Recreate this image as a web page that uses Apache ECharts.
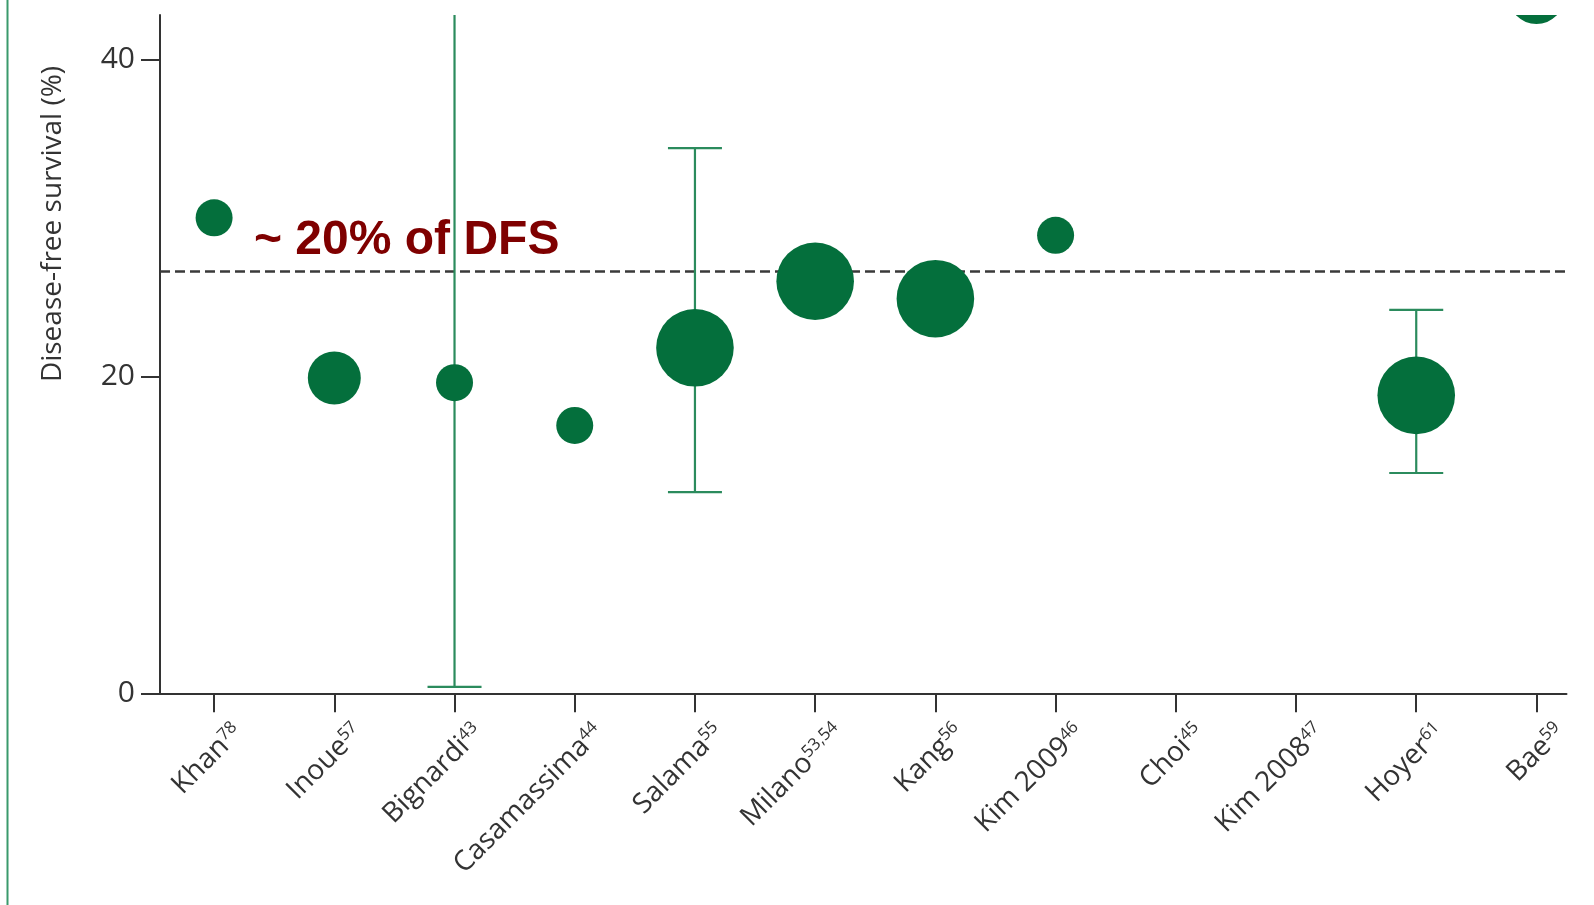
<!DOCTYPE html>
<html><head><meta charset="utf-8">
<script src="https://cdn.jsdelivr.net/npm/echarts@6/dist/echarts.min.js"></script>
<style>html,body{margin:0;padding:0;background:#fff}#chart{width:1594px;height:905px}</style>
</head><body><div id="chart"></div>
<script>
// ---- data ----
const studies = ['Khan','Inoue','Bignardi','Casamassima','Salama','Milano','Kang','Kim 2009','Choi','Kim 2008','Hoyer','Bae'];
const refs = ['78','57','43','44','55','53,54','56','46','45','47','61','59'];
const dfs = [30.0, 19.9, 19.6, 16.9, 21.8, 26.0, 24.9, 28.9, null, null, 18.8, 44.0];
const bubbleWeight = [1, 2.05, 1, 1, 4.4, 4.4, 4.4, 1, null, null, 4.4, 2.3];
const ciLow = [null, null, 0.4, null, 12.7, null, null, null, null, null, 13.9, null];
const ciHigh = [null, null, 60, null, 34.4, null, null, null, null, null, 24.2, null];
const yTicks = [0, 20, 40];
const refLine = 26.6;
const annotation = '~ 20% of DFS';
const yTitle = 'Disease-free survival (%)';

// ---- build ----
const xIdx = studies.map((s, i) => i);
const bubbleData = [];
dfs.forEach((v, i) => { if (v != null) bubbleData.push([i, v, bubbleWeight[i]]); });
const ciData = [];
ciLow.forEach((v, i) => { if (v != null) ciData.push([i, v, ciHigh[i]]); });

const GREEN = '#046f3c';
const BAR = '#2b8b5d';
const AX = '#333';
const FONT = 'Open Sans';

const chart = echarts.init(document.getElementById('chart'), null, {renderer: 'canvas'});
chart.setOption({
  animation: false,
  backgroundColor: '#fff',
  grid: {left: 160, right: 27.5, top: 15, bottom: 211.7, containLabel: false},
  xAxis: {
    type: 'value', min: -0.45, max: 11.25,
    splitLine: {show: false},
    axisLine: {onZero: false, lineStyle: {color: AX, width: 2}},
    axisTick: {show: true, customValues: xIdx, length: 19, lineStyle: {color: AX, width: 2}},
    axisLabel: {
      customValues: xIdx, rotate: 45, margin: 11,
      verticalAlign: 'top', padding: [20, 0, 0, 0],
      formatter: v => '{n|' + studies[Math.round(v)] + '}{s|' + refs[Math.round(v)] + '}',
      rich: {
        n: {fontSize: 28, fontFamily: FONT, color: AX},
        s: {fontSize: 17, fontFamily: FONT, color: AX, verticalAlign: 'top', padding: [0, 0, 10, 0]}
      }
    }
  },
  yAxis: {
    type: 'value', min: 0, max: 42.8,
    splitLine: {show: false},
    axisLine: {show: true, onZero: false, lineStyle: {color: AX, width: 2}},
    axisTick: {show: true, customValues: yTicks, length: 19, lineStyle: {color: AX, width: 2}},
    axisLabel: {customValues: yTicks, fontSize: 30, margin: 25, color: AX, fontFamily: FONT}
  },
  graphic: [
    {type: 'line', shape: {x1: 7.5, y1: 0, x2: 7.5, y2: 905}, style: {stroke: '#3a9a6c', lineWidth: 2}},
    {type: 'text', x: 53, y: 224, rotation: Math.PI / 2,
     style: {text: yTitle, fontSize: 28, fontFamily: FONT, fill: AX, align: 'center', verticalAlign: 'middle'}},
    {type: 'text', x: 254, y: 241, z: 10,
     style: {text: annotation, fontSize: 48, fontWeight: 'bold', fontFamily: 'Liberation Sans', fill: '#7f0000', align: 'left', verticalAlign: 'middle'}}
  ],
  series: [
    {
      type: 'custom', name: 'CI', z: 2, clip: true,
      data: ciData,
      encode: {x: 0, y: [1, 2]},
      renderItem: function (params, api) {
        const x = api.value(0);
        const lo = api.coord([x, api.value(1)]);
        const hi = api.coord([x, api.value(2)]);
        const hw = 27;
        const st = {stroke: BAR, lineWidth: 2.2};
        return {type: 'group', children: [
          {type: 'line', shape: {x1: lo[0], y1: lo[1], x2: hi[0], y2: hi[1]}, style: st},
          {type: 'line', shape: {x1: lo[0] - hw, y1: lo[1], x2: lo[0] + hw, y2: lo[1]}, style: st},
          {type: 'line', shape: {x1: hi[0] - hw, y1: hi[1], x2: hi[0] + hw, y2: hi[1]}, style: st}
        ]};
      },
      markLine: {
        silent: true, symbol: 'none', z: 1,
        label: {show: false},
        lineStyle: {type: [10, 5], color: '#3a3a3a', width: 2.5},
        data: [{yAxis: refLine}]
      }
    },
    {
      type: 'custom', name: 'DFS', z: 3, clip: true,
      data: bubbleData,
      encode: {x: 0, y: 1},
      renderItem: function (params, api) {
        const p = api.coord([api.value(0), api.value(1)]);
        const r = 18.5 * Math.sqrt(api.value(2));
        return {type: 'circle', shape: {cx: p[0], cy: p[1], r: r}, style: {fill: GREEN}};
      }
    }
  ]
});
</script>
</body></html>
